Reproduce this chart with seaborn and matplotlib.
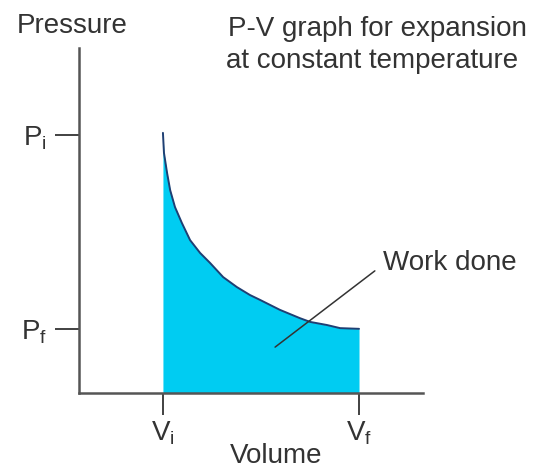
import matplotlib
matplotlib.use("Agg")
import matplotlib.pyplot as plt
import seaborn as sns
import pandas as pd

# ---- data (arbitrary units) ----
volume = [2.44, 2.47, 2.56, 2.65, 2.79, 2.99, 3.23, 3.52, 3.81, 4.19, 4.59, 4.97,
          5.26, 5.84, 6.42, 6.72, 7.21, 7.59, 8.14]
pressure = [7.54, 6.96, 6.38, 5.88, 5.39, 4.93, 4.43, 4.06, 3.77, 3.36, 3.07, 2.84,
            2.70, 2.41, 2.17, 2.06, 1.97, 1.88, 1.86]
v_ticks = [2.44, 8.14]
v_labels = [r"$\mathrm{V_i}$", r"$\mathrm{V_f}$"]
p_ticks = [7.48, 1.86]
p_labels = [r"$\mathrm{P_i}$", r"$\mathrm{P_f}$"]
work_point = (5.70, 1.33)
work_label_end = (8.60, 3.54)
work_text_pos = (8.84, 3.57)
title_lines = ["P-V graph for expansion", "at constant temperature"]

sns.set_theme(style="white")
plt.rcParams["font.family"] = ["Liberation Sans", "DejaVu Sans"]
plt.rcParams["mathtext.fontset"] = "custom"
plt.rcParams["mathtext.rm"] = "Liberation Sans"
plt.rcParams["mathtext.it"] = "Liberation Sans"

W, H = 547, 469
fig = plt.figure(figsize=(W / 100, H / 100), dpi=100)
fig.patch.set_facecolor("white")
ax = fig.add_axes([79 / W, (H - 393) / H, (423 - 79) / W, (393 - 48) / H])
ax.set_facecolor("white")

df = pd.DataFrame({"Volume": volume, "Pressure": pressure})
text_color = "#333333"
fill_color = "#00CCF2"
curve_color = "#1f3f73"
axis_color = "#555555"

ax.fill_between(df["Volume"], 0, df["Pressure"], color=fill_color, linewidth=0, zorder=1)
sns.lineplot(data=df, x="Volume", y="Pressure", ax=ax, color=curve_color,
             linewidth=1.4, sort=False, zorder=3, solid_joinstyle="round")

# annotation line + label
ax.plot([work_point[0], work_label_end[0]], [work_point[1], work_label_end[1]],
        color="#333333", linewidth=1.1, zorder=4)
ax.text(work_text_pos[0], work_text_pos[1], "Work done", fontsize=20,
        color=text_color, va="baseline", ha="left", clip_on=False)

ax.set_xlim(0, 10)
ax.set_ylim(0, 10)
for s in ["top", "right"]:
    ax.spines[s].set_visible(False)
for s in ["left", "bottom"]:
    ax.spines[s].set_color(axis_color)
    ax.spines[s].set_linewidth(1.8)
    ax.spines[s].set_zorder(5)

ax.set_xticks(v_ticks, v_labels)
ax.set_yticks(p_ticks, p_labels)
ax.tick_params(axis="x", direction="out", length=16, width=1.3, color="#333333",
               pad=3, labelsize=20, labelcolor=text_color, bottom=True)
ax.tick_params(axis="y", direction="out", length=17, width=1.3, color="#333333",
               pad=6, labelsize=20, labelcolor=text_color, left=True)

ax.set_xlabel("Volume", fontsize=20, color=text_color)
ax.xaxis.set_label_coords((276 - 79) / 344, (393 - 463) / 345)
ax.xaxis.label.set_va("baseline")
ax.set_ylabel("")

fig.text(17 / W, (H - 33) / H, "Pressure", fontsize=20, color=text_color,
         ha="left", va="baseline")
fig.text(228 / W, (H - 36) / H, title_lines[0], fontsize=20, color=text_color,
         ha="left", va="baseline")
fig.text(226 / W, (H - 68) / H, title_lines[1], fontsize=20, color=text_color,
         ha="left", va="baseline")

fig.savefig("out.png", dpi=100, facecolor="white")
